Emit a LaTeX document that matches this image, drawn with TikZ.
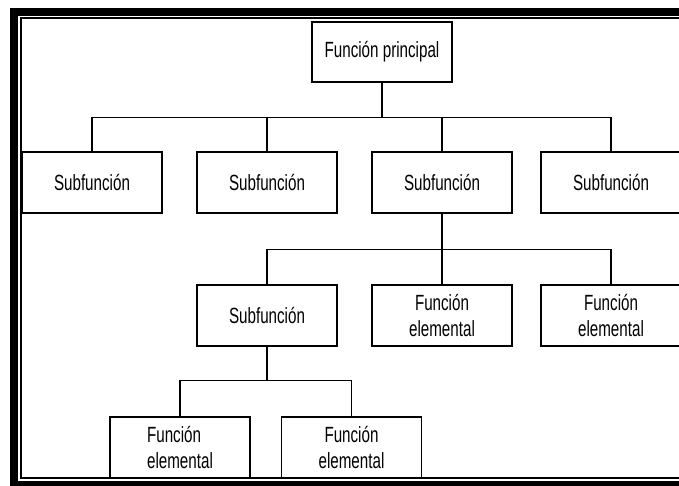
\documentclass[tikz,border=0pt]{standalone}
\usepackage{fontspec}
\setmainfont{Liberation Sans}[FakeStretch=0.69]

\begin{document}
\begin{tikzpicture}[x=1pt,y=-1pt,
  fbox/.style={draw,line width=1.2pt,minimum width=140pt,minimum height=61pt,
    inner sep=0pt,align=center,font=\fontsize{22}{26}\selectfont},
  link/.style={line width=1.1pt}]
\useasboundingbox (0,0) rectangle (679,485);
\clip (0,0) rectangle (679,485);

% frame
\draw [line width=8pt] (14,11.5) rectangle (700,485);
\draw [line width=2pt] (21,18) rectangle (700,478);

\node (main) [fbox,minimum height=60pt] at (382,52) {Función principal};

\node (sub1) [fbox] at (92,182.5) {Subfunción};
\node (sub2) [fbox] at (267,182.5) {Subfunción};
\node (sub3) [fbox] at (442,182.5) {Subfunción};
\node (sub4) [fbox] at (611,182.5) {Subfunción};

\node (subsub) [fbox] at (267,315.5) {Subfunción};
\node (elem1) [fbox] at (442,315.5) {Función\\elemental};
\node (elem2) [fbox] at (611,315.5) {Función\\elemental};

\node (elem3) [fbox,align=left] at (180,447.5) {Función\\elemental};
\node (elem4) [fbox] at (351.5,447.5) {Función\\elemental};

\foreach \n in {sub1,sub2,sub3,sub4}
  \draw [link] (main.south) -- ++(0,35) -| (\n.north);
\foreach \n in {subsub,elem1,elem2}
  \draw [link] (sub3.south) -- ++(0,36) -| (\n.north);
\foreach \n in {elem3,elem4}
  \draw [link] (subsub.south) -- ++(0,34) -| (\n.north);

\end{tikzpicture}
\end{document}
